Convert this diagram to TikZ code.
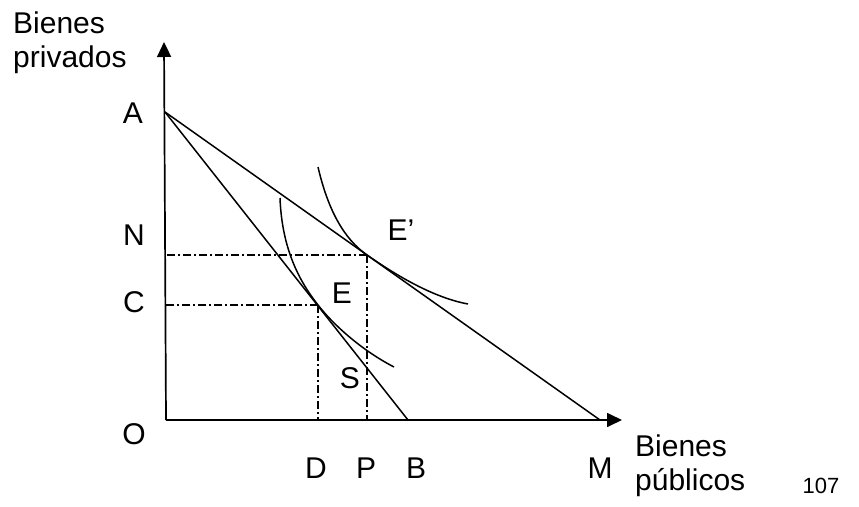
\documentclass[tikz,border=0pt]{standalone}
\usepackage{fontspec}
\setmainfont{Liberation Sans}
\usetikzlibrary{arrows.meta}

\begin{document}
\begin{tikzpicture}[
x=1pt, y=-1pt,
every node/.style={font=\fontsize{30}{34}\selectfont, inner sep=0pt},
axis/.style={-{Triangle[length=15pt,width=14pt]}, line width=1.7pt},
budget/.style={line width=1.5pt},
indiff/.style={line width=1.5pt},
guide/.style={line width=1.4pt, dash pattern=on 8pt off 3pt on 2pt off 3pt}
]
    \useasboundingbox (0,0) rectangle (859,506);

    % Points
    \coordinate (O) at (166,420);
    \coordinate (ytop) at (164,42);
    \coordinate (xend) at (622,420);
    \coordinate (A) at (165,112);
    \coordinate (B) at (408,420);
    \coordinate (M) at (600,420);
    \coordinate (E) at (318,305);
    \coordinate (Ep) at (367,255);

    % Axes
    \draw[axis] (O) -- (ytop);
    \draw[axis] (O) -- (xend);

    % Budget lines
    \draw[budget] (A) -- (B);
    \draw[budget] (A) -- (M);

    % Indifference curves
    \draw[indiff] (280,198) .. controls (282,250) and (300,282) .. (E)
        .. controls (336,328) and (365,352) .. (394,367);
    \draw[indiff] (318,167) .. controls (328,210) and (344,239) .. (Ep)
        .. controls (390,271) and (430,297) .. (468,304);

    % Guide lines
    \draw[guide] (E) -- (E -| O);
    \draw[guide] (E) -- (E |- O);
    \draw[guide] (Ep) -- (Ep -| O);
    \draw[guide] (Ep) -- (Ep |- O);

    % Axis labels
    \node[anchor=north west, align=left] (ylab) at (13,12) {Bienes\\privados};
    \node[anchor=north west, align=left] (xlab) at (635,435) {Bienes\\públicos};

    % Point labels
    \node (labA) at (133,113) {A};
    \node (labN) at (134,235) {N};
    \node (labC) at (134,302) {C};
    \node (labO) at (134,434) {O};
    \node (labEp) at (401,230) {E’};
    \node (labE) at (342,293) {E};
    \node (labS) at (350,378) {S};
    \node (labD) at (316,468) {D};
    \node (labP) at (366,468) {P};
    \node (labB) at (416,468) {B};
    \node (labM) at (600,468) {M};

    % Page number
    \node[font=\fontsize{22}{26}\selectfont] (page) at (821,486) {107};

\end{tikzpicture}
\end{document}
